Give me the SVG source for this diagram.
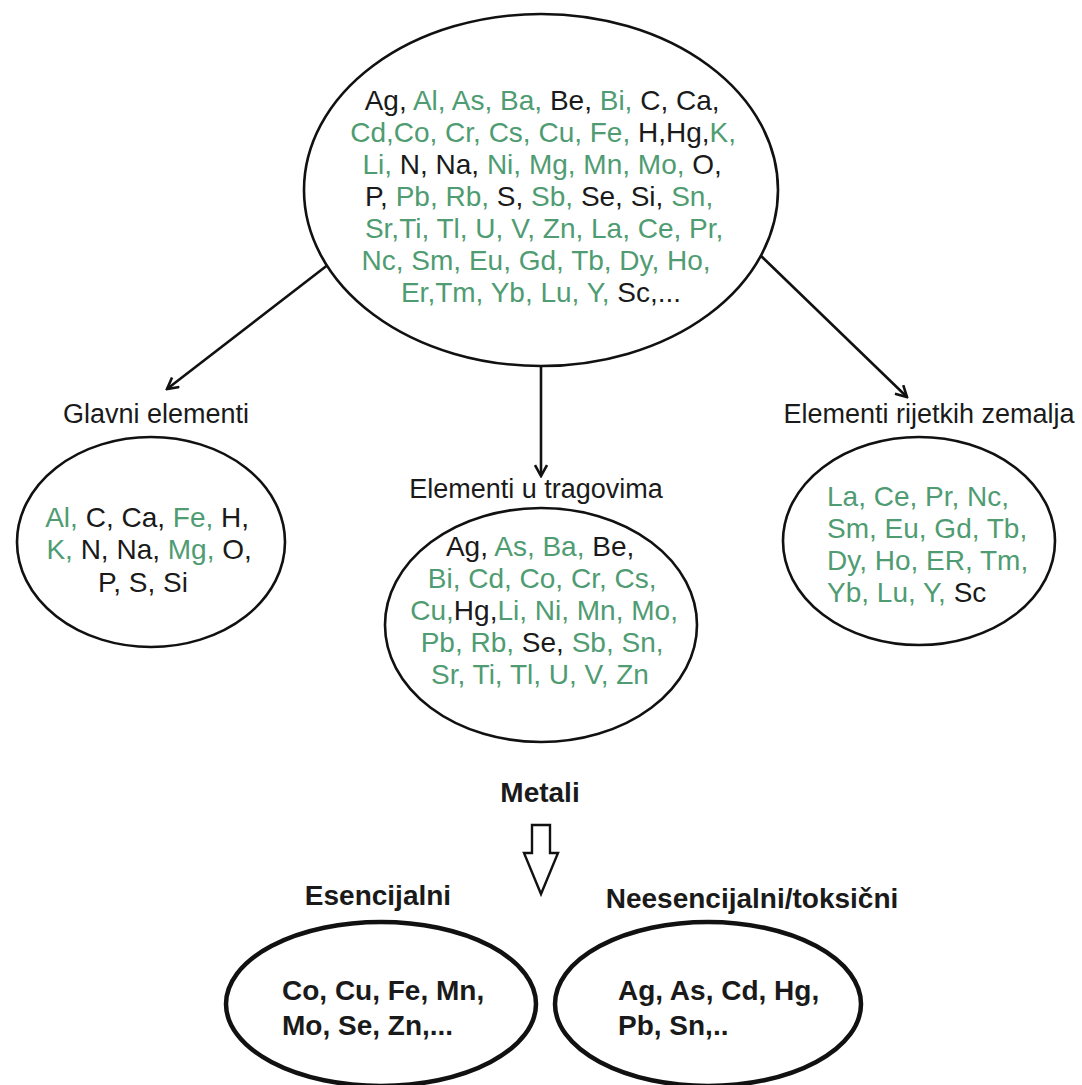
<svg xmlns="http://www.w3.org/2000/svg" width="1082" height="1085" viewBox="0 0 1082 1085">
<style>
text{font-family:"Liberation Sans",Arial,sans-serif;fill:#1a1a1a}
.t{font-size:28px}
.lb{font-size:27px}
.b{font-size:28px;font-weight:bold}
.g{fill:#4f9c72}
.k{fill:#1a1a1a}
.e{fill:#fff;stroke:#111;stroke-width:2.6}
.eb{fill:#fff;stroke:#111;stroke-width:4.5}
.c{stroke:#111;stroke-width:2.6;fill:none}
</style>
<defs>
<marker id="ah" viewBox="0 0 14 14" refX="12" refY="7" markerWidth="14" markerHeight="14" markerUnits="userSpaceOnUse" orient="auto">
<path d="M1,1 L12,7 L1,13" fill="none" stroke="#111" stroke-width="2.6"/>
</marker>
</defs>
<rect width="1082" height="1085" fill="#fff"/>
<g id="connectors">
<line class="c" x1="329" y1="264" x2="167" y2="389" marker-end="url(#ah)"/>
<line class="c" x1="541" y1="366" x2="541" y2="476" marker-end="url(#ah)"/>
<line class="c" x1="760" y1="255" x2="907" y2="397" marker-end="url(#ah)"/>
<polygon points="532,825 550,825 550,853 558,853 541,894 524,853 532,853" fill="#fff" stroke="#111" stroke-width="2.4" stroke-linejoin="miter"/>
</g>
<g id="all-elements">
<ellipse class="e" cx="541" cy="190" rx="237" ry="176"/>
<text class="t" text-anchor="middle">
<tspan x="546" y="110"><tspan class="k">Ag, </tspan><tspan class="g">Al, As, Ba, </tspan><tspan class="k">Be, </tspan><tspan class="g">Bi, </tspan><tspan class="k">C, Ca,</tspan></tspan>
<tspan x="547" y="142"><tspan class="g">Cd,Co, Cr, Cs, Cu, Fe, </tspan><tspan class="k">H,Hg,</tspan><tspan class="g">K,</tspan></tspan>
<tspan x="546" y="174"><tspan class="g">Li, </tspan><tspan class="k">N, Na, </tspan><tspan class="g">Ni, Mg, Mn, Mo, </tspan><tspan class="k">O,</tspan></tspan>
<tspan x="543" y="206"><tspan class="k">P, </tspan><tspan class="g">Pb, Rb, </tspan><tspan class="k">S, </tspan><tspan class="g">Sb, </tspan><tspan class="k">Se, Si, </tspan><tspan class="g">Sn,</tspan></tspan>
<tspan x="548" y="238" class="g">Sr,Ti, Tl, U, V, Zn, La, Ce, Pr,</tspan>
<tspan x="540" y="270" class="g">Nc, Sm, Eu, Gd, Tb, Dy, Ho,</tspan>
<tspan x="541" y="302"><tspan class="g">Er,Tm, Yb, Lu, Y, </tspan><tspan class="k">Sc,...</tspan></tspan>
</text>
</g>
<g id="glavni">
<text class="lb" x="156" y="423" text-anchor="middle">Glavni elementi</text>
<ellipse class="e" cx="151" cy="542" rx="134" ry="105"/>
<text class="t" text-anchor="middle">
<tspan x="151" y="527"><tspan class="g">Al, </tspan><tspan class="k">C, Ca, </tspan><tspan class="g">Fe, </tspan><tspan class="k">H,</tspan></tspan>
<tspan x="153" y="559"><tspan class="g">K, </tspan><tspan class="k">N, Na, </tspan><tspan class="g">Mg, </tspan><tspan class="k">O,</tspan></tspan>
<tspan x="143" y="592" class="k">P, S, Si</tspan>
</text>
</g>
<g id="tragovi">
<text class="lb" x="536" y="498" text-anchor="middle">Elementi u tragovima</text>
<ellipse class="e" cx="541" cy="625" rx="156" ry="117"/>
<text class="t" text-anchor="middle">
<tspan x="544" y="556"><tspan class="k">Ag, </tspan><tspan class="g">As, Ba, </tspan><tspan class="k">Be,</tspan></tspan>
<tspan x="546" y="588" class="g">Bi, Cd, Co, Cr, Cs,</tspan>
<tspan x="548" y="620"><tspan class="g">Cu,</tspan><tspan class="k">Hg,</tspan><tspan class="g">Li, Ni, Mn, Mo,</tspan></tspan>
<tspan x="546" y="652"><tspan class="g">Pb, Rb, </tspan><tspan class="k">Se, </tspan><tspan class="g">Sb, Sn,</tspan></tspan>
<tspan x="540" y="684" class="g">Sr, Ti, Tl, U, V, Zn</tspan>
</text>
</g>
<g id="rijetke">
<text class="lb" x="929" y="423" text-anchor="middle">Elementi rijetkih zemalja</text>
<ellipse class="e" cx="919" cy="541" rx="136" ry="104"/>
<text class="t">
<tspan x="827" y="506" class="g">La, Ce, Pr, Nc,</tspan>
<tspan x="827" y="538" class="g">Sm, Eu, Gd, Tb,</tspan>
<tspan x="827" y="570" class="g">Dy, Ho, ER, Tm,</tspan>
<tspan x="827" y="602"><tspan class="g">Yb, Lu, Y, </tspan><tspan class="k">Sc</tspan></tspan>
</text>
</g>
<g id="metali">
<text class="b" x="540" y="802" text-anchor="middle">Metali</text>
</g>
<g id="esencijalni">
<text class="b" x="378" y="905" text-anchor="middle">Esencijalni</text>
<ellipse class="eb" cx="381" cy="1004" rx="155" ry="82"/>
<text class="b">
<tspan x="282" y="1000">Co, Cu, Fe, Mn,</tspan>
<tspan x="282" y="1035">Mo, Se, Zn,...</tspan>
</text>
</g>
<g id="neesencijalni">
<text class="b" x="752" y="908" text-anchor="middle">Neesencijalni/toksični</text>
<ellipse class="eb" cx="708" cy="1004" rx="153" ry="82"/>
<text class="b">
<tspan x="618" y="1000">Ag, As, Cd, Hg,</tspan>
<tspan x="618" y="1035">Pb, Sn,..</tspan>
</text>
</g>
</svg>
